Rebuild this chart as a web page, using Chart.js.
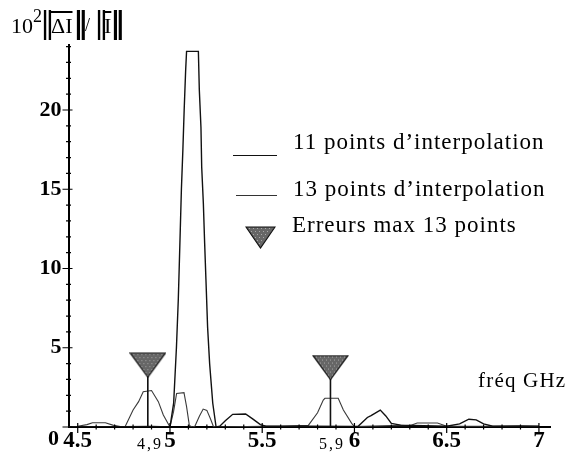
<!DOCTYPE html>
<html>
<head>
<meta charset="utf-8">
<script src="https://cdn.jsdelivr.net/npm/chart.js@4.4.0/dist/chart.umd.min.js"></script>
<style>
  body { margin: 0; background: #fff; }
  #wrap { position: relative; width: 569px; height: 454px; font-family: "Liberation Serif", "Times New Roman", serif; color: #000; }
  #wrap canvas#chart { position: absolute; left: 0; top: 0; }
  .t { position: absolute; line-height: 1; white-space: nowrap; }
  .bar { position: absolute; line-height: 1; font-family: "DejaVu Serif", serif; font-size: 30px; }
  .vec { text-decoration: overline; }
  .leg-line { position: absolute; height: 0; border-top: 1.5px solid #111; }
</style>
</head>
<body>
<div id="wrap">
  <canvas id="chart" width="569" height="454"></canvas>
  <div class="t" style="left:11px; top:14.5px; font-size:22px">10</div>
  <div class="t" style="left:33px; top:7px; font-size:18px">2</div>
  <div class="bar" style="left:40px; top:8px">‖</div>
  <div class="t vec" style="left:51px; top:14.5px; font-size:22px">ΔI</div>
  <div class="bar" style="left:73px; top:8px; font-weight:bold">‖</div>
  <div class="t" style="left:85px; top:16px; font-size:18px">/</div>
  <div class="bar" style="left:94px; top:8px">‖</div>
  <div class="t vec" style="left:104px; top:14.5px; font-size:22px">I</div>
  <div class="bar" style="left:110px; top:8px; font-weight:bold">‖</div>

  <div class="leg-line" style="left:233px; top:155px; width:44px"></div>
  <div class="t" style="left:293px; top:130px; font-size:23px; letter-spacing:1px">11 points d’interpolation</div>
  <div class="leg-line" style="left:236px; top:195px; width:41px; border-top-color:#333"></div>
  <div class="t" style="left:293px; top:176.5px; font-size:23px; letter-spacing:1px">13 points d’interpolation</div>
  <div id="legTri" style="position:absolute; left:245px; top:226px"></div>
  <div class="t" style="left:292px; top:212.5px; font-size:23px; letter-spacing:1px">Erreurs max 13 points</div>

  <div class="t" style="left:478px; top:370px; font-size:21px; letter-spacing:1.2px">fréq GHz</div>
  <div class="t" style="left:48px; top:426.5px; font-size:22px; font-weight:bold">0</div>
  <div class="t" style="left:137px; top:435.5px; font-size:16px; letter-spacing:2px">4,9</div>
  <div class="t" style="left:319px; top:435.5px; font-size:16px; letter-spacing:2px">5,9</div>
</div>
<script>
// erreur relative, 11 points d'interpolation
const freq11 = [4.45, 4.5, 4.75, 4.9, 5.0, 5.02, 5.035, 5.045, 5.05, 5.056, 5.062, 5.07, 5.077, 5.085, 5.09,
  5.154, 5.159, 5.168, 5.172, 5.181, 5.188, 5.195, 5.204, 5.215, 5.232, 5.25, 5.27, 5.30, 5.34, 5.41, 5.45,
  5.49, 5.52, 5.75, 6.0, 6.02, 6.07, 6.09, 6.14, 6.17, 6.20, 6.25, 6.5, 6.57, 6.62, 6.66, 6.70, 6.75, 7.0];
const err11 = [0, 0.02, 0.02, 0.03, 0, 1.5, 5, 8, 10, 12.5, 15, 17.5, 20, 22.5, 23.7,
  23.7, 21.3, 18.9, 16.4, 14.1, 11.6, 9.3, 6.3, 4, 1.5, 0, 0.05, 0.4, 0.8, 0.82, 0.5,
  0.15, 0.05, 0.05, 0.03, 0.05, 0.6, 0.72, 1.07, 0.7, 0.23, 0.12, 0.05, 0.2, 0.49, 0.45, 0.2, 0.05, 0.05];

// erreur relative, 13 points d'interpolation
const freq13 = [4.45, 4.5, 4.55, 4.58, 4.65, 4.69, 4.73, 4.756, 4.80, 4.83, 4.855, 4.90, 4.937, 4.964, 5.0,
  5.02, 5.036, 5.076, 5.09, 5.105, 5.12, 5.135, 5.16, 5.18, 5.20, 5.22, 5.235, 5.25, 5.5, 5.6, 5.75,
  5.80, 5.831, 5.84, 5.912, 5.94, 5.985, 6.0, 6.25, 6.30, 6.34, 6.45, 6.5, 6.75, 6.9, 7.0];
const err13 = [0, 0.05, 0.15, 0.27, 0.27, 0.12, 0.03, 0, 1.07, 1.6, 2.23, 2.3, 1.6, 0.76, 0,
  1.0, 2.12, 2.17, 1.28, 0.1, 0, 0.05, 0.7, 1.13, 1.05, 0.5, 0.05, 0, 0.05, 0.05, 0.1,
  0.9, 1.7, 1.81, 1.81, 1.07, 0.23, 0.03, 0.1, 0.08, 0.25, 0.25, 0.05, 0.05, 0.08, 0.05];

// erreurs max, 13 points
const markerFreqs = [4.88, 5.87];
const markerVals = [3.9, 3.75];

// graduations
const xMajorTicks = [4.5, 5, 5.5, 6, 6.5, 7];
const xTickLabels = ['4.5', '5', '5.5', '6', '6.5', '7'];
const yMajorTicks = [5, 10, 15, 20];
const yTickLabels = ['5', '10', '15', '20'];

function toPoints(xs, ys) {
  return xs.map((x, i) => ({ x: x, y: ys[i] }));
}

// triangle gris tramé
function makeTriangle(w, h) {
  const c = document.createElement('canvas');
  c.width = w;
  c.height = h;
  const g = c.getContext('2d');
  g.beginPath();
  g.moveTo(1, 1);
  g.lineTo(w - 1, 1);
  g.lineTo(w / 2, h - 1);
  g.closePath();
  g.fillStyle = '#666';
  g.fill();
  g.save();
  g.clip();
  g.fillStyle = '#a8a8a8';
  for (let yy = 2; yy < h; yy += 3) {
    for (let xx = (yy % 2) * 2; xx < w; xx += 4) g.fillRect(xx, yy, 1, 1);
  }
  g.restore();
  g.strokeStyle = '#111';
  g.lineWidth = 1.2;
  g.stroke();
  return c;
}

document.getElementById('legTri').appendChild(makeTriangle(31, 23));

// petites graduations qui traversent les axes
const axisTicks = {
  id: 'axisTicks',
  afterDraw(chart) {
    const { ctx, scales: { x, y } } = chart;
    const x0 = x.getPixelForValue(x.min);
    const y0 = y.getPixelForValue(0);
    ctx.save();
    ctx.strokeStyle = '#000';
    ctx.lineWidth = 1.2;
    ctx.beginPath();
    y.ticks.forEach(t => {
      const py = y.getPixelForValue(t.value);
      const major = t.value % 5 === 0;
      ctx.moveTo(x0 - (major ? 6 : 2.5), py);
      ctx.lineTo(x0 + (major ? 4 : 2.5), py);
    });
    x.ticks.forEach(t => {
      const px = x.getPixelForValue(t.value);
      const major = xMajorTicks.some(v => Math.abs(v - t.value) < 1e-6);
      ctx.moveTo(px, y0 - (major ? 4 : 2.5));
      ctx.lineTo(px, y0 + (major ? 6 : 2.5));
    });
    ctx.stroke();
    ctx.restore();
  }
};

const stems = markerFreqs.flatMap((f, i) => [{ x: f, y: 0 }, { x: f, y: markerVals[i] }, { x: f, y: null }]);

new Chart(document.getElementById('chart'), {
  type: 'line',
  data: {
    datasets: [
      {
        label: 'Erreurs max 13 points',
        data: toPoints(markerFreqs, markerVals),
        showLine: false,
        pointStyle: makeTriangle(37, 26),
        pointRadius: 13
      },
      {
        label: 'stems',
        data: stems,
        borderColor: '#111',
        borderWidth: 1.6,
        pointRadius: 0,
        spanGaps: false
      },
      {
        label: '11 points d’interpolation',
        data: toPoints(freq11, err11),
        borderColor: '#111',
        borderWidth: 1.4,
        pointRadius: 0,
        tension: 0
      },
      {
        label: '13 points d’interpolation',
        data: toPoints(freq13, err13),
        borderColor: '#3a3a3a',
        borderWidth: 1.1,
        pointRadius: 0,
        tension: 0
      }
    ]
  },
  options: {
    responsive: false,
    animation: false,
    events: [],
    layout: { padding: { left: 0, top: 45, right: 19, bottom: 0 } },
    plugins: { legend: { display: false }, tooltip: { enabled: false } },
    scales: {
      x: {
        type: 'linear',
        min: 4.45,
        max: 7.06,
        grid: { display: false, drawTicks: false },
        border: { display: true, color: '#000', width: 2 },
        afterFit: s => { s.height = 27; },
        afterBuildTicks: s => {
          const ticks = [];
          for (let k = 45; k <= 70; k++) ticks.push({ value: k / 10 });
          s.ticks = ticks;
        },
        ticks: {
          autoSkip: false,
          maxRotation: 0,
          padding: 0,
          color: '#000',
          font: { family: 'Liberation Serif', size: 23, weight: 'bold' },
          callback: v => {
            const i = xMajorTicks.findIndex(m => Math.abs(m - v) < 1e-6);
            return i >= 0 ? xTickLabels[i] : '';
          }
        }
      },
      y: {
        min: 0,
        max: 24.1,
        grid: { display: false, drawTicks: false },
        border: { display: true, color: '#000', width: 2 },
        afterFit: s => { s.width = 68.5; },
        afterBuildTicks: s => {
          const ticks = [];
          for (let k = 0; k <= 24; k++) ticks.push({ value: k });
          s.ticks = ticks;
        },
        ticks: {
          autoSkip: false,
          padding: 7,
          color: '#000',
          font: { family: 'Liberation Serif', size: 22, weight: 'bold' },
          callback: v => {
            const i = yMajorTicks.indexOf(v);
            return i >= 0 ? yTickLabels[i] : '';
          }
        }
      }
    }
  },
  plugins: [axisTicks]
});
</script>
</body>
</html>
